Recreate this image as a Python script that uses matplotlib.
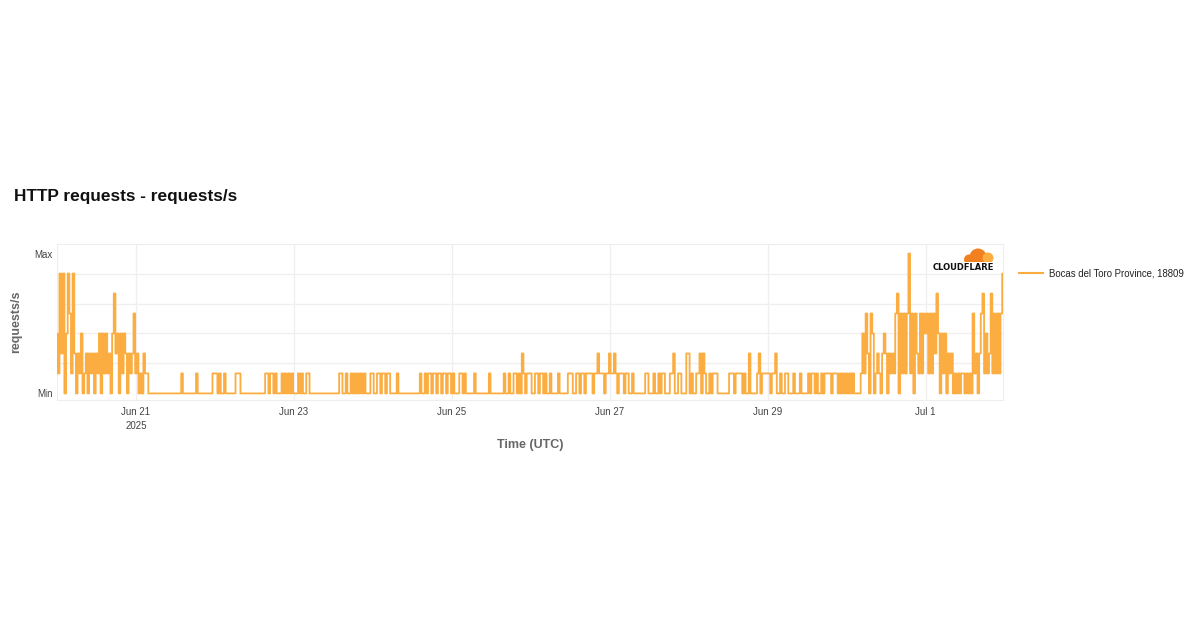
import matplotlib
matplotlib.use("Agg")
import matplotlib.pyplot as plt
import numpy as np
import pandas as pd
from matplotlib.patches import Circle, Rectangle

plt.rcParams['font.family'] = ['Liberation Sans', 'DejaVu Sans']

# requests/s, one value per 30 minutes, 0 = Min .. 7 = Max
jun20 = [3, 1, 6, 2, 6, 0, 3, 6, 4, 1, 6, 2, 0, 2, 1, 3, 0, 1, 2, 0, 2, 1, 2, 0,
         2, 1, 3, 0, 3, 1, 3, 1, 2, 0, 3, 5, 2, 3, 0, 3, 1, 3, 2, 0, 2, 1, 2, 4]
jun21 = [1, 2, 0, 1, 0, 2, 1, 1, 0, 0, 0, 0, 0, 0, 0, 0, 0, 0, 0, 0, 0, 0, 0, 0,
         0, 0, 0, 0, 1, 0, 0, 0, 0, 0, 0, 0, 0, 1, 0, 0, 0, 0, 0, 0, 0, 0, 0, 1]
jun22 = [1, 1, 0, 1, 0, 0, 1, 0, 0, 0, 0, 0, 0, 1, 1, 1, 0, 0, 0, 0, 0, 0, 0, 0,
         0, 0, 0, 0, 0, 0, 0, 1, 1, 0, 1, 1, 0, 1, 0, 0, 0, 1, 0, 1, 0, 1, 0, 1]
jun23 = [0, 0, 0, 1, 0, 1, 0, 0, 1, 1, 0, 0, 0, 0, 0, 0, 0, 0, 0, 0, 0, 0, 0, 0,
         0, 0, 0, 0, 1, 1, 0, 0, 1, 0, 0, 1, 0, 1, 0, 1, 0, 1, 0, 1, 0, 0, 0, 1]
jun24 = [1, 0, 0, 1, 1, 0, 1, 1, 0, 1, 1, 0, 0, 0, 0, 1, 0, 0, 0, 0, 0, 0, 0, 0,
         0, 0, 0, 0, 0, 1, 0, 0, 1, 0, 1, 1, 0, 1, 1, 0, 1, 1, 0, 1, 1, 0, 1, 1]
jun25 = [0, 1, 0, 0, 0, 1, 1, 0, 1, 0, 0, 0, 0, 0, 1, 0, 0, 0, 0, 0, 0, 0, 0, 1,
         0, 0, 0, 0, 0, 0, 0, 0, 1, 0, 0, 1, 0, 0, 1, 1, 0, 1, 0, 2, 1, 0, 1, 1]
jun26 = [1, 0, 0, 1, 1, 0, 1, 1, 0, 1, 0, 0, 1, 0, 0, 0, 0, 1, 0, 0, 0, 0, 0, 1,
         1, 1, 0, 0, 1, 1, 0, 1, 1, 0, 1, 1, 1, 1, 0, 1, 1, 2, 1, 1, 1, 0, 1, 1]
jun27 = [2, 1, 1, 2, 1, 0, 1, 1, 1, 0, 1, 1, 0, 0, 1, 0, 0, 0, 0, 0, 0, 0, 1, 1,
         0, 0, 0, 1, 0, 0, 1, 0, 1, 1, 0, 0, 0, 1, 1, 2, 0, 0, 1, 1, 0, 0, 0, 2]
jun28 = [2, 0, 1, 0, 0, 1, 1, 2, 0, 2, 1, 0, 0, 1, 0, 1, 1, 1, 0, 0, 0, 0, 0, 0,
         0, 1, 1, 1, 0, 1, 1, 1, 1, 0, 1, 0, 0, 2, 0, 0, 0, 0, 1, 2, 0, 1, 1, 1]
jun29 = [1, 1, 0, 1, 1, 2, 0, 0, 1, 0, 0, 1, 1, 0, 0, 0, 1, 0, 0, 0, 1, 0, 0, 0,
         0, 1, 0, 1, 1, 0, 1, 0, 0, 1, 0, 1, 1, 1, 1, 0, 1, 1, 1, 0, 1, 0, 1, 0]
jun30 = [1, 0, 1, 0, 1, 0, 0, 0, 0, 1, 3, 1, 4, 2, 0, 4, 3, 0, 1, 2, 1, 0, 2, 3,
         2, 0, 2, 1, 2, 1, 4, 5, 0, 4, 1, 4, 1, 4, 7, 1, 4, 0, 4, 2, 1, 4, 1, 4]
jul01 = [3, 4, 1, 4, 1, 4, 2, 5, 3, 0, 3, 1, 3, 0, 2, 1, 2, 0, 1, 0, 1, 0, 1, 1,
         0, 1, 0, 1, 0, 4, 1, 2, 0, 2, 4, 5, 1, 3, 1, 2, 5, 1, 4, 1, 4, 1, 4, 6]

days = [jun20, jun21, jun22, jun23, jun24, jun25, jun26, jun27, jun28, jun29,
        jun30, jul01]
values = np.concatenate(days)
times = pd.date_range('2025-06-20 00:00', periods=len(values), freq='30min')

tick_dates = pd.to_datetime(['2025-06-21', '2025-06-23', '2025-06-25',
                             '2025-06-27', '2025-06-29', '2025-07-01'])
tick_labels = ['Jun 21\n2025', 'Jun 23', 'Jun 25', 'Jun 27', 'Jun 29', 'Jul 1']
series_name = 'Bocas del Toro Province, 18809'

W, H = 1200, 630
fig = plt.figure(figsize=(12, 6.3), dpi=100)
fig.patch.set_facecolor('white')

ax = fig.add_axes([57 / W, (H - 400) / H, (1003 - 57) / W, 156 / H])
line_color = '#fbad41'
ax.plot(times, values, color=line_color, lw=1.3, drawstyle='steps-mid', zorder=3)

ax.set_xlim(times[0], times[-1])
ax.set_ylim(-0.33, 7.48)
ax.set_yticks([0, 7])
ax.set_yticklabels(['Min', 'Max'])
ax.set_yticks([1.5, 3, 4.5, 6], minor=True)
ax.set_xticks(tick_dates)
ax.set_xticklabels(tick_labels, linespacing=1.45)
ax.tick_params(axis='both', which='both', length=0, labelsize=7, labelcolor='#444444')
ax.tick_params(axis='x', pad=5)
ax.tick_params(axis='y', pad=3)
ax.grid(axis='y', which='minor', color='#efefef', lw=0.9, zorder=0)
ax.grid(axis='x', which='major', color='#efefef', lw=0.9, zorder=0)
for s in ax.spines.values():
    s.set_color('#eeeeee')
    s.set_linewidth(0.8)

fig.text(14 / W, 1 - 197 / H, 'HTTP requests - requests/s', fontsize=12.4,
         fontweight='bold', color='#111111', va='center', ha='left')
fig.text(16 / W, 1 - 322 / H, 'requests/s', fontsize=9, fontweight='bold',
         color='#666666', rotation=90, va='center', ha='center')
fig.text(530 / W, 1 - 445 / H, 'Time (UTC)', fontsize=9, fontweight='bold',
         color='#666666', va='center', ha='center')

# legend
fig.add_artist(plt.Line2D([1019 / W, 1043 / W], [1 - 273 / H, 1 - 273 / H],
                          color=line_color, lw=1.5))
fig.text(1049 / W, 1 - 274 / H, series_name, fontsize=6.9, color='#222222',
         va='center', ha='left')

# cloudflare mark
logo = fig.add_axes([962 / W, 1 - 264 / H, 34 / W, 18 / H])
logo.set_xlim(0, 34)
logo.set_ylim(0, 18)
logo.axis('off')
logo.add_patch(Circle((16, 7), 8.5, color='#f38020', lw=0))
logo.add_patch(Circle((7, 4.5), 5, color='#f38020', lw=0))
logo.add_patch(Circle((26, 6), 5.5, color='#faae40', lw=0))
logo.add_patch(Rectangle((0, -3), 34, 5, color='white', lw=0, zorder=5))
fig.text(963 / W, 1 - 267 / H, 'CLOUDFLARE', fontsize=6,
         fontweight='bold', family='DejaVu Sans', color='#111111',
         va='center', ha='center')

fig.savefig('out.png', dpi=100, facecolor='white')
